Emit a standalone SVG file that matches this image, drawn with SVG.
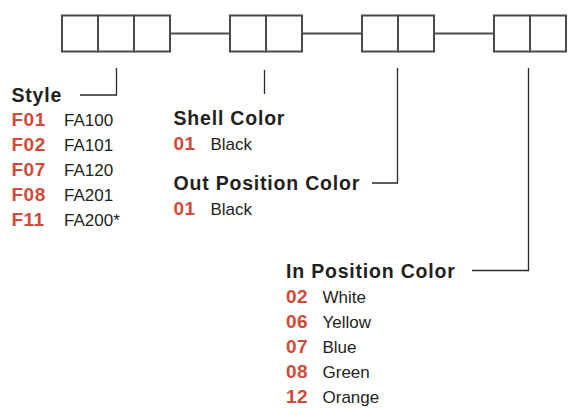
<svg xmlns="http://www.w3.org/2000/svg" width="571" height="415" viewBox="0 0 571 415">
<style>
.cell{fill:#fff;stroke:#4a4a4a;stroke-width:2}
.link{stroke:#4a4a4a;stroke-width:2;fill:none}
.lead{stroke:#2a2a2a;stroke-width:1.3;fill:none}
.h{font-family:"Liberation Sans",Arial,sans-serif;font-weight:bold;font-size:19.5px;letter-spacing:0.8px;fill:#231f20}
.c{font-family:"Liberation Sans",Arial,sans-serif;font-weight:bold;font-size:19px;letter-spacing:0.5px;fill:#d24a38}
.v{font-family:"Liberation Sans",Arial,sans-serif;font-size:17px;fill:#231f20}
</style>
<rect width="571" height="415" fill="#fff"/>
<g id="connectors">
<path class="link" d="M170 33.5H230M302 33.5H362M434 33.5H494"/>
<path class="lead" d="M116.5 68V95H80"/>
<path class="lead" d="M264.5 70V94"/>
<path class="lead" d="M397.5 68V183H372"/>
<path class="lead" d="M528.5 68V270.5H472"/>
</g>
<g id="style-code">
<rect class="cell" x="62" y="15.5" width="36" height="36"/>
<rect class="cell" x="98" y="15.5" width="36" height="36"/>
<rect class="cell" x="134" y="15.5" width="36" height="36"/>
</g>
<g id="shell-code">
<rect class="cell" x="230" y="15.5" width="36" height="36"/>
<rect class="cell" x="266" y="15.5" width="36" height="36"/>
</g>
<g id="out-code">
<rect class="cell" x="362" y="15.5" width="36" height="36"/>
<rect class="cell" x="398" y="15.5" width="36" height="36"/>
</g>
<g id="in-code">
<rect class="cell" x="494" y="15.5" width="36" height="36"/>
<rect class="cell" x="530" y="15.5" width="36" height="36"/>
</g>
<g id="style">
<text class="h" x="11.5" y="101.5">Style</text>
<text class="c" x="11.5" y="126">F01</text><text class="v" x="64" y="126">FA100</text>
<text class="c" x="11.5" y="151">F02</text><text class="v" x="64" y="151">FA101</text>
<text class="c" x="11.5" y="176">F07</text><text class="v" x="64" y="176">FA120</text>
<text class="c" x="11.5" y="201">F08</text><text class="v" x="64" y="201">FA201</text>
<text class="c" x="11.5" y="226">F11</text><text class="v" x="64" y="226">FA200*</text>
</g>
<g id="shell-color">
<text class="h" x="173.5" y="125">Shell Color</text>
<text class="c" x="173.5" y="150">01</text><text class="v" x="210.5" y="150">Black</text>
</g>
<g id="out-position-color">
<text class="h" x="173.5" y="190">Out Position Color</text>
<text class="c" x="173.5" y="215">01</text><text class="v" x="210.5" y="215">Black</text>
</g>
<g id="in-position-color">
<text class="h" x="286" y="278">In Position Color</text>
<text class="c" x="286" y="303">02</text><text class="v" x="322.5" y="303">White</text>
<text class="c" x="286" y="328">06</text><text class="v" x="322.5" y="328">Yellow</text>
<text class="c" x="286" y="353">07</text><text class="v" x="322.5" y="353">Blue</text>
<text class="c" x="286" y="378">08</text><text class="v" x="322.5" y="378">Green</text>
<text class="c" x="286" y="403">12</text><text class="v" x="322.5" y="403">Orange</text>
</g>
</svg>
